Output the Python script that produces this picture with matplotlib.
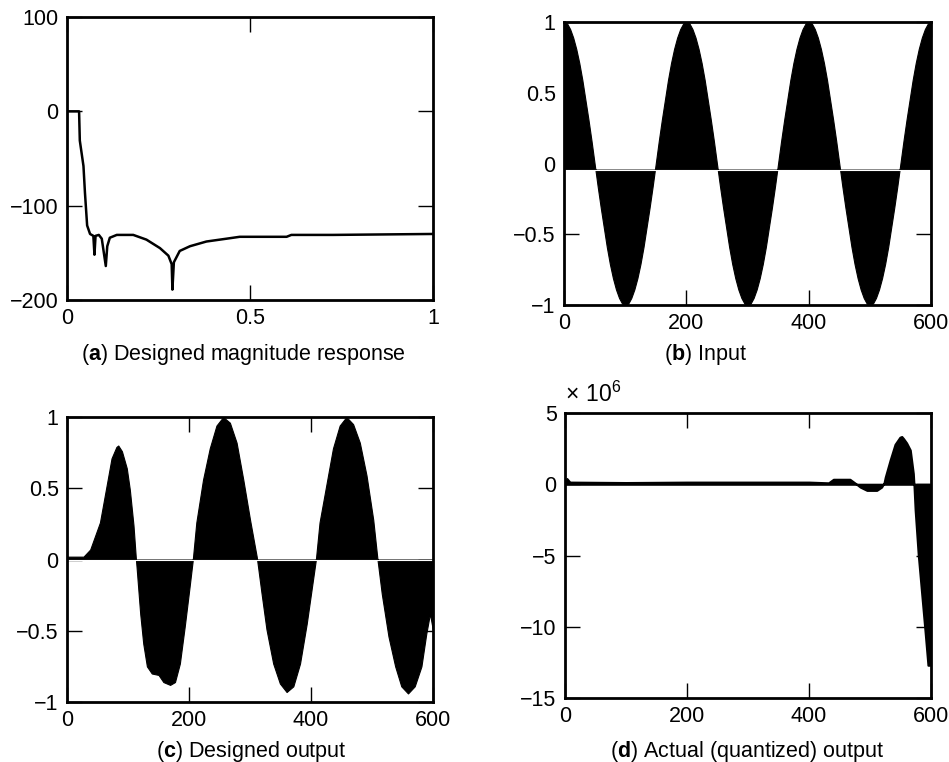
import matplotlib
matplotlib.use("Agg")
import numpy as np
import matplotlib.pyplot as plt

plt.rcParams['font.family'] = ['Liberation Sans', 'DejaVu Sans']
plt.rcParams['font.size'] = 15
plt.rcParams['mathtext.fontset'] = 'custom'
plt.rcParams['mathtext.rm'] = 'Liberation Sans'
plt.rcParams['mathtext.bf'] = 'Liberation Sans:bold'

# (a) designed magnitude response (normalised freq, dB)
freq_a = [0.0, 0.033, 0.035, 0.045, 0.049, 0.055, 0.063, 0.072, 0.075, 0.078,
          0.087, 0.095, 0.106, 0.110, 0.117, 0.136, 0.181, 0.217, 0.254, 0.277,
          0.286, 0.288, 0.292, 0.308, 0.336, 0.381, 0.436, 0.472, 0.600, 0.613,
          0.727, 1.0]
mag_a = [0, 0, -31, -58, -86, -121, -130, -132, -152, -132,
         -131, -135, -164, -143, -134, -131, -131, -136, -145, -153,
         -162, -189, -160, -148, -143, -138, -135, -133, -133, -131,
         -131, -130]

# (b) input samples, read every 5 samples (one period = 40 readings)
n_b = list(range(0, 601, 5))
period_b = [1.0, 0.99, 0.95, 0.89, 0.81, 0.71, 0.59, 0.45, 0.31, 0.16,
            0.0, -0.16, -0.31, -0.45, -0.59, -0.71, -0.81, -0.89, -0.95, -0.99,
            -1.0, -0.99, -0.95, -0.89, -0.81, -0.71, -0.59, -0.45, -0.31, -0.16,
            0.0, 0.16, 0.31, 0.45, 0.59, 0.71, 0.81, 0.89, 0.95, 0.99]
x_b = period_b * 3 + [1.0]
base_b = -0.043

# (c) designed output envelope
n_c = [0, 27, 38, 54, 65, 73, 81, 84, 90, 98, 103, 109, 113,
       114, 120, 125, 131, 139, 150, 158, 169, 177, 185, 193, 201, 206,
       212, 223, 234, 245, 256, 267, 278, 289, 300, 311,
       319, 327, 338, 349, 360, 371, 382, 393, 404, 408,
       414, 425, 436, 447, 458, 469, 480, 491, 502, 509,
       516, 527, 538, 548, 559, 570, 581, 589, 595, 600]
y_c = [0.02, 0.02, 0.07, 0.26, 0.52, 0.71, 0.79, 0.80, 0.76, 0.64, 0.49, 0.24, 0.0,
       -0.05, -0.38, -0.59, -0.75, -0.80, -0.81, -0.86, -0.88, -0.86, -0.73, -0.47, -0.19, -0.01,
       0.26, 0.56, 0.78, 0.94, 1.0, 0.96, 0.82, 0.56, 0.28, 0.02,
       -0.24, -0.49, -0.73, -0.87, -0.93, -0.89, -0.73, -0.45, -0.12, 0.0,
       0.26, 0.52, 0.78, 0.94, 1.0, 0.95, 0.82, 0.59, 0.28, 0.0,
       -0.24, -0.54, -0.75, -0.89, -0.94, -0.89, -0.75, -0.52, -0.38, -0.5]

# (d) actual (quantized) output, in units of 1e6
n_d = [0, 3, 8, 100, 200, 300, 400, 432, 440, 467, 475, 484, 495, 511, 519, 523,
       525, 533, 541, 549, 552, 555, 560, 566, 571, 572,
       574, 579, 585, 590, 595, 598]
y_d = [0.15, 0.4, 0.15, 0.12, 0.15, 0.15, 0.15, 0.1, 0.35, 0.35, 0.1, -0.2, -0.43, -0.43, -0.2, 0.1,
       0.5, 1.7, 2.8, 3.3, 3.35, 3.2, 2.9, 2.4, 0.75, 0.0,
       -1.8, -4.9, -7.8, -10.2, -12.7, -12.7]

W, H = 949, 762
fig = plt.figure(figsize=(W / 100, H / 100), dpi=100)


def make_ax(l, t, r, b):
    ax = fig.add_axes([l / W, 1 - b / H, (r - l) / W, (b - t) / H])
    for s in ax.spines.values():
        s.set_linewidth(2)
    ax.tick_params(direction='in', length=11, width=1, top=True, right=True,
                   labelsize=15.5)
    ax.tick_params(axis='x', pad=6)
    ax.tick_params(axis='y', pad=6)
    return ax


# (a)
ax = make_ax(67, 17, 433, 300)
ax.plot(freq_a, mag_a, color='black', lw=1.8)
ax.set_xlim(0, 1)
ax.set_ylim(-200, 100)
ax.set_xticks([0, 0.5, 1])
ax.set_xticklabels(['0', '0.5', '1'])
ax.set_yticks([-200, -100, 0, 100])

# (b)
ax = make_ax(564, 22, 931, 305)
ax.fill_between(n_b, base_b, x_b, color='black', lw=0.8, edgecolor='black')
ax.axhline(base_b, color='white', lw=0.8)
ax.set_xlim(0, 600)
ax.set_ylim(-1, 1)
ax.set_xticks([0, 200, 400, 600])
ax.set_yticks([-1, -0.5, 0, 0.5, 1])
ax.set_yticklabels(['\u22121', '\u22120.5', '0', '0.5', '1'])

# (c)
ax = make_ax(67, 417, 433, 702)
ax.fill_between(n_c, 0, y_c, color='black', lw=0.8, edgecolor='black')
ax.axhline(0, color='white', lw=0.8)
ax.set_xlim(0, 600)
ax.set_ylim(-1, 1)
ax.set_xticks([0, 200, 400, 600])
ax.set_yticks([-1, -0.5, 0, 0.5, 1])
ax.set_yticklabels(['\u22121', '\u22120.5', '0', '0.5', '1'])

# (d)
ax = make_ax(565, 413, 931, 698)
ax.fill_between(n_d, 0, y_d, color='black', lw=1.5, edgecolor='black')
ax.set_xlim(0, 600)
ax.set_ylim(-15, 5)
ax.set_xticks([0, 200, 400, 600])
ax.set_yticks([-15, -10, -5, 0, 5])
ax.text(0, 1.02, r'$\times\ 10^{6}$', transform=ax.transAxes, fontsize=16.5,
        ha='left', va='bottom')

# captions
cap = 15.5
fig.text(243 / W, 1 - 354 / H, r'($\mathbf{a}$) Designed magnitude response',
         ha='center', va='center', fontsize=cap)
fig.text(706 / W, 1 - 354 / H, r'($\mathbf{b}$) Input', ha='center', va='center', fontsize=cap)
fig.text(251 / W, 1 - 751 / H, r'($\mathbf{c}$) Designed output',
         ha='center', va='center', fontsize=cap)
fig.text(747 / W, 1 - 751 / H, r'($\mathbf{d}$) Actual (quantized) output',
         ha='center', va='center', fontsize=cap)

fig.savefig('out.png', dpi=100)
